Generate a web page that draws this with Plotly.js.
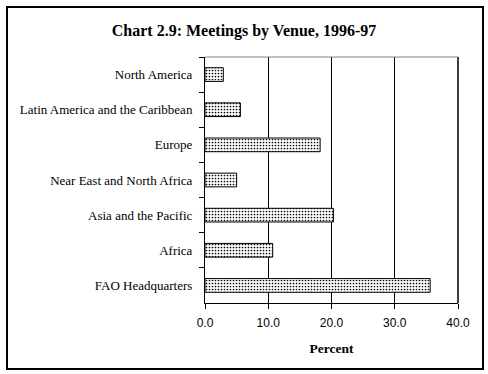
<!DOCTYPE html>
<html>
<head>
<meta charset="utf-8">
<script src="https://cdn.plot.ly/plotly-3.0.1.min.js"></script>
<style>
html,body{margin:0;padding:0;background:#fff;}
#wrap{position:relative;width:488px;height:374px;}
#chart{width:488px;height:374px;}
#frame{position:absolute;left:6px;top:6px;width:474px;height:360px;border:2px solid #000;pointer-events:none;}
</style>
</head>
<body>
<div id="wrap"><div id="chart"></div><div id="frame"></div></div>
<script>
const categories = ["North America","Latin America and the Caribbean","Europe","Near East and North Africa","Asia and the Pacific","Africa","FAO Headquarters"];
const percent = [2.9, 5.6, 18.2, 5.0, 20.3, 10.7, 35.6];
const xTicks = [0, 10, 20, 30, 40];

const trace = {
  type: 'bar',
  orientation: 'h',
  x: percent,
  y: categories,
  marker: {
    color: 'white',
    line: {color: 'black', width: 1},
    pattern: {shape: '.', fgcolor: '#000', bgcolor: '#fff', size: 3, solidity: 0.25}
  },
  hoverinfo: 'none'
};

const layout = {
  width: 488, height: 374,
  margin: {l: 204.5, r: 29.5, t: 57, b: 71},
  paper_bgcolor: '#fff', plot_bgcolor: '#fff',
  showlegend: false,
  bargap: 0.61,
  title: {text: 'Chart 2.9: Meetings by Venue, 1996-97', x: 0.5, xref: 'container', xanchor: 'center', y: 1 - 30/374, yref: 'container', yanchor: 'middle',
    font: {family: 'Liberation Serif, Times New Roman, serif', size: 16, color: '#000', weight: 'bold'}},
  xaxis: {
    range: [0, 40], tickvals: xTicks, ticktext: xTicks.map(v => v.toFixed(1)),
    showgrid: true, gridcolor: '#000', gridwidth: 1,
    showline: true, linecolor: '#000', linewidth: 1,
    ticks: 'outside', ticklen: 5, tickcolor: '#000', tickwidth: 1,
    ticklabelstandoff: 4,
    zeroline: false,
    tickfont: {family: 'Liberation Sans, Arial, sans-serif', size: 12, color: '#000'},
    title: {text: 'Percent', standoff: 14, font: {family: 'Liberation Serif, Times New Roman, serif', size: 13.5, color: '#000', weight: 'bold'}},
    fixedrange: true
  },
  yaxis: {
    type: 'category', autorange: 'reversed',
    showline: true, linecolor: '#000', linewidth: 1,
    ticks: 'outside', ticklen: 5, tickcolor: '#000', tickson: 'boundaries',
    showgrid: false, zeroline: false,
    ticklabelstandoff: 9,
    tickfont: {family: 'Liberation Serif, Times New Roman, serif', size: 13, color: '#000'},
    fixedrange: true
  },
  shapes: [
    {type: 'line', xref: 'paper', yref: 'paper', x0: 0, x1: 1, y0: 1, y1: 1, line: {color: '#808080', width: 1}},
    {type: 'line', xref: 'paper', yref: 'paper', x0: 1, x1: 1, y0: 0, y1: 1, line: {color: '#404040', width: 2}}
  ]
};

Plotly.newPlot('chart', [trace], layout, {displayModeBar: false, staticPlot: true});
</script>
</body>
</html>
